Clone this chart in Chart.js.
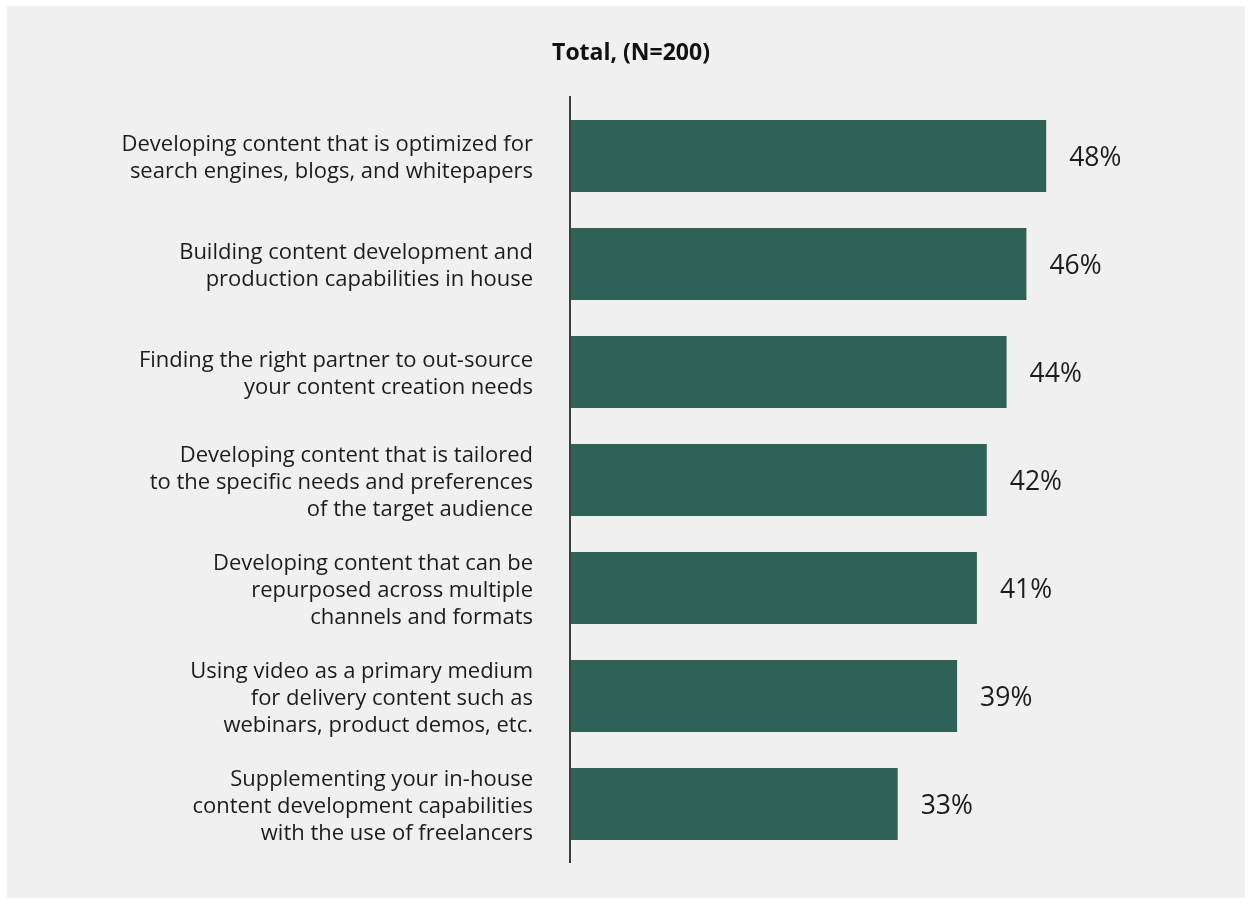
<!DOCTYPE html>
<html>
<head>
<meta charset="utf-8">
<script src="https://cdn.jsdelivr.net/npm/chart.js@4.4.1/dist/chart.umd.min.js"></script>
<style>
  html, body { margin: 0; padding: 0; background: #ffffff; }
  #wrap { width: 1250px; height: 905px; position: relative; }
</style>
</head>
<body>
<div id="wrap"><canvas id="chart" width="1250" height="905"></canvas></div>
<script>
// Survey answers (multi-line category labels) and the share of respondents
const categories = [
  ["Developing content that is optimized for", "search engines, blogs, and whitepapers"],
  ["Building content development and", "production capabilities in house"],
  ["Finding the right partner to out-source", "your content creation needs"],
  ["Developing content that is tailored", "to the specific needs and preferences", "of the target audience"],
  ["Developing content that can be", "repurposed across multiple", "channels and formats"],
  ["Using video as a primary medium", "for delivery content such as", "webinars, product demos, etc."],
  ["Supplementing your in-house", "content development capabilities", "with the use of freelancers"]
];
const totalShare = [48, 46, 44, 42, 41, 39, 33];
const chartTitle = "Total, (N=200)";
const valueSuffix = "%";

const BAR_COLOR = "#2e6158";
const TEXT_COLOR = "#1c1c1c";
const FONT = "'Open Sans', 'Noto Sans', sans-serif";

// Panel background, left axis line, title and value labels
const decor = {
  id: "decor",
  beforeDraw(chart) {
    const ctx = chart.ctx;
    ctx.save();
    ctx.fillStyle = "#ffffff";
    ctx.fillRect(0, 0, chart.width, chart.height);
    ctx.fillStyle = "#f0f0f0";
    ctx.fillRect(7, 6, 1238, 892);
    ctx.restore();
  },
  afterDatasetsDraw(chart) {
    const ctx = chart.ctx;
    const area = chart.chartArea;
    ctx.save();
    // vertical category axis line
    ctx.strokeStyle = "#3d3d3d";
    ctx.lineWidth = 2;
    ctx.beginPath();
    ctx.moveTo(area.left - 1, area.top - 6);
    ctx.lineTo(area.left - 1, area.bottom + 5);
    ctx.stroke();

    // value labels at the end of each bar
    ctx.fillStyle = TEXT_COLOR;
    ctx.font = "26.5px " + FONT;
    ctx.textAlign = "left";
    ctx.textBaseline = "middle";
    const meta = chart.getDatasetMeta(0);
    meta.data.forEach((bar, i) => {
      ctx.fillText(totalShare[i] + valueSuffix, bar.x + 23, bar.y + 2);
    });

    // heading
    ctx.font = "bold 23px " + FONT;
    ctx.textAlign = "center";
    ctx.textBaseline = "alphabetic";
    ctx.fillStyle = "#111111";
    ctx.fillText(chartTitle, 631, 59.5);
    ctx.restore();
  }
};

new Chart(document.getElementById("chart"), {
  type: "bar",
  data: {
    labels: categories,
    datasets: [{
      data: totalShare,
      backgroundColor: BAR_COLOR,
      borderWidth: 0,
      barPercentage: 0.667,
      categoryPercentage: 1.0
    }]
  },
  options: {
    indexAxis: "y",
    responsive: false,
    animation: false,
    devicePixelRatio: 1,
    layout: { padding: { top: 102, bottom: 47, left: 0, right: 85 } },
    plugins: {
      legend: { display: false },
      title: { display: false },
      tooltip: { enabled: false }
    },
    scales: {
      x: {
        display: false,
        min: 0,
        max: 60
      },
      y: {
        afterFit(scale) {
          scale.width = 571;
          scale.paddingTop = 0;
          scale.paddingBottom = 0;
        },
        grid: { display: false, drawTicks: false },
        border: { display: false },
        ticks: {
          padding: 38,
          labelOffset: 2.5,
          color: TEXT_COLOR,
          font: { family: FONT, size: 22, lineHeight: 1.227 }
        }
      }
    }
  },
  plugins: [decor]
});
</script>
</body>
</html>
